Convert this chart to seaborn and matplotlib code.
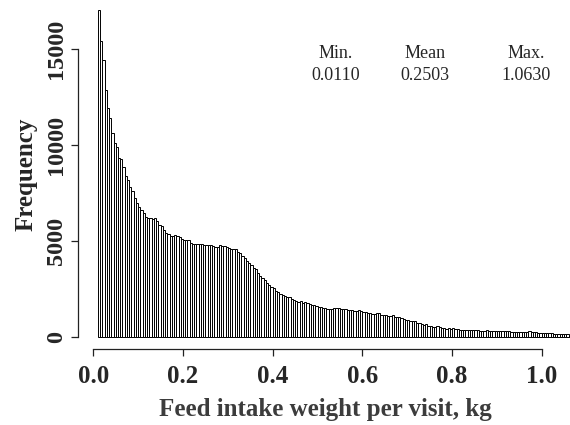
import numpy as np
import pandas as pd
import matplotlib
matplotlib.use("Agg")
import matplotlib.pyplot as plt
import seaborn as sns

# Histogram of feed intake per visit (kg): bins of 0.005 kg starting at 0.010
bin_start = 0.010
bin_width = 0.005
counts = [
    17050, 15400, 14400, 12850, 11950, 11400, 10600, 10100, 9900, 9330,
    9250, 8870, 8400, 8180, 7800, 7620, 7250, 6960, 6790, 6610,
    6440, 6270, 6180, 6210, 6130, 6180, 6060, 5830, 5780, 5570,
    5430, 5360, 5260, 5260, 5310, 5280, 5190, 5090, 5050, 5040,
    5050, 4910, 4850, 4840, 4850, 4830, 4840, 4800, 4790, 4800,
    4780, 4720, 4700, 4690, 4790, 4750, 4740, 4700, 4620, 4580,
    4590, 4560, 4450, 4380, 4220, 4110, 3970, 3850, 3750, 3620,
    3530, 3350, 3180, 3090, 2970, 2830, 2710, 2620, 2540, 2400,
    2330, 2240, 2190, 2140, 2100, 2070, 1980, 1930, 1880, 1840,
    1850, 1790, 1840, 1790, 1720, 1670, 1650, 1610, 1580, 1550,
    1490, 1500, 1480, 1470, 1480, 1490, 1490, 1510, 1470, 1440,
    1440, 1410, 1410, 1400, 1370, 1370, 1410, 1360, 1320, 1300,
    1270, 1230, 1220, 1200, 1230, 1270, 1160, 1150, 1130, 1090,
    1110, 1130, 1060, 1040, 1020, 1010, 920, 910, 880, 860,
    850, 810, 745, 730, 690, 640, 660, 580, 550, 540,
    540, 555, 520, 490, 485, 440, 450, 415, 445, 415,
    400, 370, 365, 365, 350, 385, 365, 360, 365, 350,
    330, 330, 325, 350, 330, 315, 315, 295, 295, 330,
    310, 310, 295, 310, 280, 280, 275, 280, 275, 260,
    255, 260, 290, 260, 255, 260, 195, 190, 190, 185,
    190, 185, 190, 180, 155, 150, 145, 150, 140, 145,
    120,
]

stat_names = ["Min.", "Mean", "Max."]
stat_values = ["0.0110", "0.2503", "1.0630"]
x_ticks = [0.0, 0.2, 0.4, 0.6, 0.8, 1.0]
y_ticks = [0, 5000, 10000, 15000]

edges = bin_start + bin_width * np.arange(len(counts) + 1)
centers = (edges[:-1] + edges[1:]) / 2
df = pd.DataFrame({"weight": centers, "n": counts})

sns.set_style("ticks")
plt.rcParams["font.family"] = ["Liberation Serif", "DejaVu Serif"]

fig = plt.figure(figsize=(5.7, 4.25), dpi=100)
ax = fig.add_axes([0.1374, 0.1781, 0.8653, 0.8219])

sns.histplot(data=df, x="weight", weights="n", bins=edges.tolist(),
             color="white", edgecolor="black", linewidth=0.7, alpha=1,
             ax=ax)

ax.set_xlim(-0.0335, 1.0665)
ax.set_ylim(-640, 17550)

for side in ("top", "right"):
    ax.spines[side].set_visible(False)
ax.spines["left"].set_bounds(0, 15000)
ax.spines["bottom"].set_bounds(0, 1.0)
for side in ("left", "bottom"):
    ax.spines[side].set_linewidth(0.9)
    ax.spines[side].set_color("#222222")

ax.set_xticks(x_ticks)
ax.set_xticklabels([f"{t:.1f}" for t in x_ticks], fontsize=18, fontweight="bold")
ax.set_yticks(y_ticks)
ax.set_yticklabels([str(t) for t in y_ticks], fontsize=17.5, fontweight="bold",
                   rotation=90, va="center")
ax.tick_params(axis="both", length=5.3, width=0.9, color="#222222")
ax.tick_params(axis="x", pad=6)
ax.tick_params(axis="y", pad=3)

ax.set_xlabel("Feed intake weight per visit, kg", fontsize=18,
              fontweight="bold", color="#3c3c3c", labelpad=7)
ax.set_ylabel("Frequency", fontsize=18, fontweight="bold", labelpad=6)

col_x = [0.5895, 0.7456, 0.9228]
for cx, name, val in zip(col_x, stat_names, stat_values):
    fig.text(cx, 0.874, name, fontsize=13, ha="center", va="center")
    fig.text(cx, 0.822, val, fontsize=13, ha="center", va="center")

fig.savefig("out.png", dpi=100)
